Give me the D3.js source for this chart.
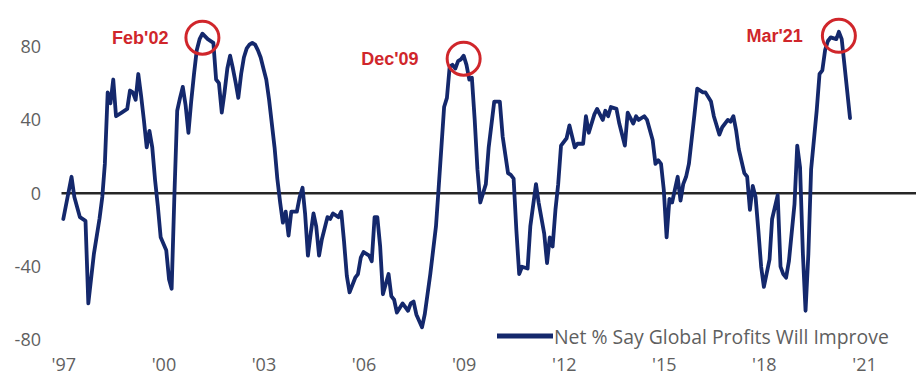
<!DOCTYPE html>
<html>
<head>
<meta charset="utf-8">
<script src="https://cdn.jsdelivr.net/npm/d3@7"></script>
<style>
  html, body { margin: 0; padding: 0; background: #ffffff; }
  svg { display: block; }
</style>
</head>
<body>
<svg id="chart" width="916" height="376"></svg>
<script>
// Fund manager survey: net % saying global profits will improve (monthly readings)
const months = [
  "1997-12","1998-03","1998-04","1998-06","1998-08","1998-09","1998-11",
  "1999-01","1999-02","1999-03","1999-04","1999-05","1999-06","1999-07","1999-09","1999-11","1999-12",
  "2000-01","2000-02","2000-03","2000-04","2000-05","2000-06","2000-07","2000-08","2000-09","2000-10","2000-11",
  "2001-01","2001-02","2001-03","2001-04","2001-05","2001-06","2001-07","2001-08","2001-09","2001-10","2001-11","2001-12",
  "2002-01","2002-02","2002-04","2002-06","2002-07","2002-08","2002-09","2002-10","2002-11","2002-12",
  "2003-01","2003-02","2003-03","2003-04","2003-05","2003-06","2003-07","2003-08","2003-09","2003-10","2003-11","2003-12",
  "2004-01","2004-02","2004-04","2004-05","2004-06","2004-07","2004-08","2004-09","2004-10","2004-12",
  "2005-01","2005-02","2005-03","2005-04","2005-05","2005-06","2005-07","2005-08","2005-09","2005-11","2005-12",
  "2006-01","2006-03","2006-04","2006-05","2006-06","2006-07","2006-09","2006-10","2006-11","2006-12",
  "2007-02","2007-03","2007-04","2007-05","2007-06","2007-07","2007-09","2007-10","2007-11","2007-12",
  "2008-02","2008-04","2008-05","2008-06","2008-07","2008-09","2008-10","2008-12",
  "2009-02","2009-03","2009-05","2009-06","2009-07","2009-08","2009-09","2009-10","2009-11","2009-12",
  "2010-01","2010-02","2010-03","2010-04","2010-05","2010-06","2010-08","2010-09","2010-11",
  "2011-01","2011-02","2011-04","2011-05","2011-06","2011-07","2011-08","2011-09","2011-11","2011-12",
  "2012-02","2012-03","2012-05","2012-06","2012-07","2012-08","2012-09","2012-10","2012-11",
  "2013-01","2013-02","2013-04","2013-05","2013-07","2013-08","2013-09","2013-11","2013-12",
  "2014-02","2014-03","2014-04","2014-05","2014-07","2014-08","2014-10","2014-11",
  "2015-01","2015-02","2015-03","2015-05","2015-06","2015-08","2015-09","2015-10","2015-11","2015-12",
  "2016-01","2016-02","2016-03","2016-05","2016-06","2016-07","2016-08","2016-09","2016-11","2016-12",
  "2017-02","2017-03","2017-05","2017-06","2017-08","2017-09","2017-11","2017-12",
  "2018-01","2018-02","2018-03","2018-05","2018-06","2018-07","2018-08","2018-09","2018-10","2018-11","2018-12",
  "2019-02","2019-03","2019-05","2019-06","2019-07","2019-08","2019-09","2019-11","2019-12",
  "2020-01","2020-02","2020-03","2020-04","2020-05","2020-07","2020-08","2020-09","2020-10","2020-11","2020-12",
  "2021-02","2021-03","2021-04","2021-05","2021-07"
];
const netPct = [
  -14, 9, -2, -13, -15, -60, -33,
  -14, -2, 16, 55, 49, 62, 42, 44, 46, 56,
  55, 51, 65, 53, 40, 25, 34, 25, 7, -7, -24,
  -31, -47, -52, 0, 45, 52, 58, 48, 33, 50, 65, 78,
  84, 87, 84, 82, 62, 60, 44, 55, 68, 75,
  68, 60, 52, 65, 74, 79, 81, 82, 81, 78, 74, 68,
  62, 51, 25, 8, -5, -16, -10, -23, -10, -10,
  -2, 3, -11, -34, -22, -11, -18, -34, -25, -13, -14,
  -11, -13, -10, -26, -45, -54, -46, -44, -35, -32,
  -34, -37, -13, -13, -29, -55, -44, -56, -58, -65,
  -60, -64, -60, -59, -66, -73, -66, -44,
  -18, 2, 47, 52, 69, 70, 68, 72, 73, 75,
  70, 62, 63, 40, 13, -5, 5, 25, 50,
  50, 31, 11, 10, 8, -20, -44, -40, -41, -18,
  5, -5, -22, -38, -24, -29, -9, 5, 26,
  30, 37, 25, 27, 27, 42, 33, 43, 46,
  40, 45, 42, 47, 46, 38, 26, 44,
  38, 42, 40, 42, 40, 29, 16, 18, 16, 2,
  -24, -3, -5, 9, -4, 5, 9, 16, 43, 57,
  55, 55, 50, 42, 32, 36, 40, 39,
  42, 34, 24, 11, 9, -9, 4, -2, -20, -40, -51,
  -36, -14, -1, -40, -44, -46, -37, -6, 26,
  14, -33, -64, -33, 13, 45, 65, 67, 78, 83, 85,
  84, 88, 84, 70, 41
];

const yTicks = [-80, -40, 0, 40, 80];
const xTickMonths = ["1997-12","2000-12","2003-12","2006-12","2009-12","2012-12","2015-12","2018-12","2021-12"];
const xTickLabels = ["'97","'00","'03","'06","'09","'12","'15","'18","'21"];

const calloutMonths = ["2002-02","2009-12","2021-03"];
const calloutLabels = ["Feb'02","Dec'09","Mar'21"];

const seriesName = "Net % Say Global Profits Will Improve";

// ---- drawing ----
const parseMonth = d3.timeParse("%Y-%m");
const series = months.map((m, i) => ({ date: parseMonth(m), value: netPct[i] }));

const svg = d3.select("#chart");
const W = 916;

const x = d3.scaleTime()
  .domain([parseMonth("1997-12"), parseMonth("2021-12")])
  .range([63.3, 864]);
const y = d3.scaleLinear()
  .domain([-80, 80])
  .range([340.1, 46.5]);

const NAVY = "#14286c";
const RED = "#d0262b";
const GREY = "#5f5f5f";
const FONT = "'Open Sans', 'Noto Sans', sans-serif";

// y axis labels (no axis line, no ticks); plain hyphen for negatives
const yAxis = svg.append("g")
  .attr("transform", "translate(44,0)")
  .call(d3.axisLeft(y)
    .tickValues(yTicks)
    .tickFormat(d => String(d))
    .tickSize(0)
    .tickPadding(3));
yAxis.select(".domain").remove();
yAxis.selectAll("text")
  .attr("fill", GREY)
  .style("font-family", FONT)
  .style("font-size", "18px");

// x axis labels
const xAxis = svg.append("g")
  .attr("transform", "translate(0,350)")
  .call(d3.axisBottom(x)
    .tickValues(xTickMonths.map(parseMonth))
    .tickFormat((d, i) => xTickLabels[i])
    .tickSize(0)
    .tickPadding(8));
xAxis.select(".domain").remove();
xAxis.selectAll("text")
  .attr("fill", GREY)
  .style("font-family", FONT)
  .style("font-size", "18px");

// zero rule
svg.append("line")
  .attr("x1", 61.5).attr("x2", W)
  .attr("y1", y(0)).attr("y2", y(0))
  .attr("stroke", "#262626")
  .attr("stroke-width", 2.5);

// series line
const line = d3.line()
  .x(d => x(d.date))
  .y(d => y(d.value));

svg.append("path")
  .datum(series)
  .attr("d", line)
  .attr("fill", "none")
  .attr("stroke", NAVY)
  .attr("stroke-width", 3.8)
  .attr("stroke-linejoin", "round")
  .attr("stroke-linecap", "round");

// callouts on the highlighted readings
const calloutLayout = [
  { dx: -34, dy: 4 },
  { dx: -45, dy: 3 },
  { dx: -36, dy: 4 }
];
calloutMonths.forEach((m, i) => {
  const pt = series.find(d => d3.timeFormat("%Y-%m")(d.date) === m);
  const cx = x(pt.date);
  const cy = y(pt.value) + calloutLayout[i].dy;
  svg.append("circle")
    .attr("cx", cx).attr("cy", cy).attr("r", 16.5)
    .attr("fill", "none")
    .attr("stroke", RED)
    .attr("stroke-width", 3);
  svg.append("text")
    .attr("x", cx + calloutLayout[i].dx)
    .attr("y", cy)
    .attr("text-anchor", "end")
    .attr("dominant-baseline", "central")
    .attr("fill", RED)
    .style("font-family", "'Liberation Sans', Arial, sans-serif")
    .style("font-weight", "bold")
    .style("font-size", "18px")
    .text(calloutLabels[i]);
});

// legend
const legend = svg.append("g").attr("transform", "translate(497,336)");
legend.append("line")
  .attr("x1", 0).attr("x2", 56)
  .attr("y1", 0).attr("y2", 0)
  .attr("stroke", NAVY)
  .attr("stroke-width", 5);
legend.append("text")
  .attr("x", 57)
  .attr("y", 0)
  .attr("dominant-baseline", "central")
  .attr("fill", GREY)
  .style("font-family", FONT)
  .style("font-size", "19.4px")
  .text(seriesName);
</script>
</body>
</html>
